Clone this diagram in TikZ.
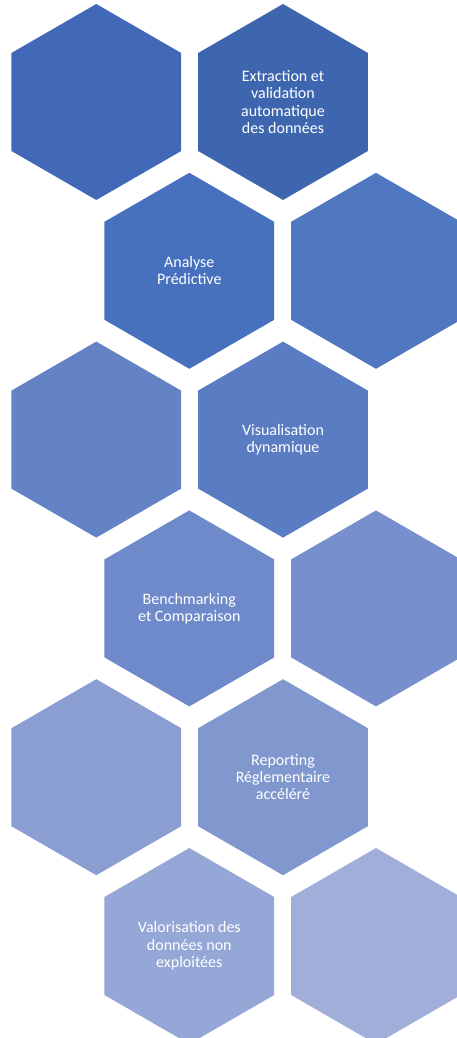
\documentclass[tikz,border=0pt]{standalone}
\usepackage{fontspec}
\setmainfont{Carlito}
\usepackage{tikz}
\newcommand{\lExtract}{Extraction et\\validation\\automatique\\des données}
\newcommand{\lPredict}{Analyse\\Prédictive}
\newcommand{\lVisual}{Visualisation\\dynamique}
\newcommand{\lBench}{Benchmarking\\et Comparaison}
\newcommand{\lReport}{Reporting\\Réglementaire\\accéléré}
\newcommand{\lValue}{Valorisation des\\données non\\exploitées}
\usetikzlibrary{shapes.geometric}
\definecolor{hexOne}{RGB}{65, 105, 184}
\definecolor{hexTwo}{RGB}{62, 102, 175}
\definecolor{hexThree}{RGB}{71, 113, 190}
\definecolor{hexFour}{RGB}{80, 120, 192}
\definecolor{hexFive}{RGB}{100, 131, 196}
\definecolor{hexSix}{RGB}{90, 124, 194}
\definecolor{hexSeven}{RGB}{111, 138, 202}
\definecolor{hexEight}{RGB}{119, 144, 205}
\definecolor{hexNine}{RGB}{138, 158, 210}
\definecolor{hexTen}{RGB}{129, 152, 207}
\definecolor{hexEleven}{RGB}{149, 167, 214}
\definecolor{hexTwelve}{RGB}{160, 174, 217}

\begin{document}
\begin{tikzpicture} [
        x=1pt, y=-1pt,
        hex/.style={regular polygon, regular polygon sides=6, regular polygon rotate=30,
            minimum size=196pt, inner sep=0pt, outer sep=0pt},
        hex text/.style={hex, text=white, align=center, font=\fontsize{16}{17.3}\selectfont},
    ]

    \useasboundingbox (0, 0) rectangle (456, 1038);

    % row 1
    \node[hex, fill=hexOne] (h11) at (96.3, 102) {};
    \node[hex text, fill=hexTwo] (h12) at (283, 102) {\lExtract};

    % row 2
    \node[hex text, fill=hexThree] (h21) at (189.3, 270.8) {\lPredict};
    \node[hex, fill=hexFour] (h22) at (376, 270.8) {};

    % row 3
    \node[hex, fill=hexFive] (h31) at (96.3, 439.6) {};
    \node[hex text, fill=hexSix] (h32) at (283, 439.6) {\lVisual};

    % row 4
    \node[hex text, fill=hexSeven] (h41) at (189.3, 608.4) {\lBench};
    \node[hex, fill=hexEight] (h42) at (376, 608.4) {};

    % row 5
    \node[hex, fill=hexNine] (h51) at (96.3, 777.2) {};
    \node[hex text, fill=hexTen] (h52) at (283, 777.2) {\lReport};

    % row 6
    \node[hex text, fill=hexEleven] (h61) at (189.3, 946) {\lValue};
    \node[hex, fill=hexTwelve] (h62) at (376, 946) {};

\end{tikzpicture}
\end{document}
